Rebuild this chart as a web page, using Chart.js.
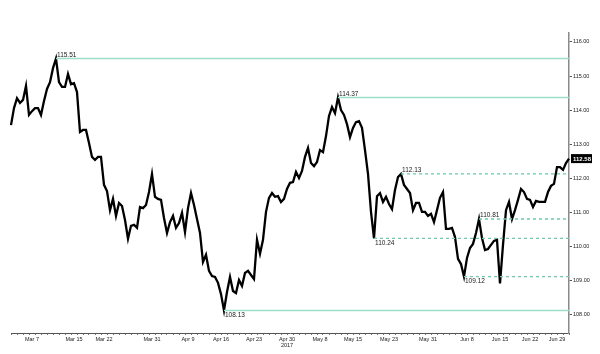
<!DOCTYPE html>
<html>
<head>
<meta charset="utf-8">
<title>USD/JPY 2017</title>
<script src="https://cdn.jsdelivr.net/npm/chart.js@4.4.1/dist/chart.umd.min.js"></script>
<style>
  html, body { margin: 0; padding: 0; background: #fff; }
  #wrap { width: 600px; height: 354px; }
</style>
</head>
<body>
<div id="wrap"><canvas id="fx" width="600" height="354"></canvas></div>
<script>
// price path, sampled evenly across the trading period (Mar 1 - Jun 30 2017)
const prices = [
  113.56, 114.06, 114.35, 114.21, 114.30, 114.71, 113.86, 113.97, 114.06, 114.06,
  113.86, 114.27, 114.62, 114.82, 115.23, 115.51, 114.82, 114.68, 114.68, 115.06,
  114.76, 114.79, 114.53, 113.36, 113.42, 113.42, 113.04, 112.63, 112.54, 112.63,
  112.63, 111.81, 111.63, 111.07, 111.40, 110.90, 111.28, 111.19, 110.78, 110.23,
  110.61, 110.64, 110.55, 111.16, 111.13, 111.22, 111.60, 112.13, 111.46, 111.40,
  111.37, 110.84, 110.40, 110.72, 110.90, 110.55, 110.69, 110.99, 110.43, 111.13,
  111.57, 111.22, 110.81, 110.40, 109.55, 109.76, 109.29, 109.14, 109.11, 108.94,
  108.61, 108.13, 108.67, 109.11, 108.70, 108.64, 109.02, 108.85, 109.23, 109.29,
  109.17, 109.05, 110.20, 109.79, 110.20, 111.02, 111.43, 111.57, 111.46, 111.48,
  111.31, 111.40, 111.69, 111.87, 111.89, 112.19, 112.01, 112.22, 112.63, 112.89,
  112.45, 112.36, 112.48, 112.83, 112.77, 113.24, 113.83, 114.09, 113.91, 114.37,
  114.00, 113.86, 113.59, 113.21, 113.48, 113.65, 113.68, 113.48, 112.83, 112.13,
  111.02, 110.24, 111.48, 111.57, 111.31, 111.46, 111.25, 111.10, 111.66, 112.04,
  112.13, 111.81, 111.69, 111.57, 111.07, 111.28, 111.28, 111.02, 111.02, 110.90,
  110.96, 110.72, 111.07, 111.43, 111.60, 110.52, 110.52, 110.55, 110.28, 109.64,
  109.49, 109.12, 109.67, 109.96, 110.08, 110.40, 110.81, 110.25, 109.90, 109.93,
  110.05, 110.17, 110.20, 108.92, 110.05, 111.07, 111.31, 110.81, 111.07, 111.37,
  111.69, 111.60, 111.40, 111.37, 111.16, 111.34, 111.31, 111.31, 111.31, 111.60,
  111.78, 111.84, 112.33, 112.33, 112.25, 112.45, 112.58
];

// date labels and the sample index where each one falls
const tickDates = ['Mar 7', 'Mar 15', 'Mar 22', 'Mar 31', 'Apr 9', 'Apr 16', 'Apr 23', 'Apr 30',
  'May 8', 'May 15', 'May 23', 'May 31', 'Jun 8', 'Jun 15', 'Jun 22', 'Jun 29'];
const tickIndex = [7, 21, 31, 47, 59, 70, 81, 92, 103, 114, 126, 139, 152, 163, 173, 182];
const yearLabel = '2017';
const yearIndex = 92;

// horizontal levels: major extremes (solid) and minor swing points (dashed)
const majorLevels = [115.51, 114.37, 108.13];
const majorStart = [15, 109, 71];
const minorLevels = [112.13, 110.81, 110.24, 109.12];
const minorStart = [130, 156, 121, 151];

const yTicks = [108, 109, 110, 111, 112, 113, 114, 115, 116];

const COLORS = {
  price: '#000000',
  major: '#9ddfca',
  minor: '#6fc9ad',
  axis: '#8a8a8a',
  text: '#1a1a1a'
};

const labels = prices.map((_, i) => {
  const k = tickIndex.indexOf(i);
  if (k < 0) return '';
  return i === yearIndex ? [tickDates[k], yearLabel] : tickDates[k];
});

// a level runs from its start sample to the end of the chart
function levelData(value, start) {
  return prices.map((_, i) => (i >= start ? value : null));
}

const levelSets = [];
majorLevels.forEach((v, k) => {
  levelSets.push({
    data: levelData(v, majorStart[k]),
    borderColor: COLORS.major,
    borderWidth: 1.5,
    pointRadius: 0,
    tension: 0,
    level: v,
    below: v < 109
  });
});
minorLevels.forEach((v, k) => {
  levelSets.push({
    data: levelData(v, minorStart[k]),
    borderColor: COLORS.minor,
    borderWidth: 1.3,
    borderDash: [3, 3],
    pointRadius: 0,
    tension: 0,
    level: v,
    below: v === 110.24 || v === 109.12
  });
});

// writes the level values next to where each line starts, and the last price box
const levelText = {
  id: 'levelText',
  afterDatasetsDraw(chart) {
    const { ctx, scales: { x, y } } = chart;
    ctx.save();
    ctx.font = '6.5px "Liberation Sans", Arial, sans-serif';
    ctx.fillStyle = COLORS.text;
    ctx.textAlign = 'left';
    chart.data.datasets.forEach(ds => {
      if (ds.level === undefined) return;
      const start = ds.data.findIndex(v => v !== null);
      const px = x.getPixelForValue(start);
      const py = y.getPixelForValue(ds.level);
      ctx.textBaseline = ds.below ? 'top' : 'bottom';
      ctx.fillText(ds.level.toFixed(2), px + 1, ds.below ? py + 1 : py - 0.5);
    });

    const last = prices[prices.length - 1];
    const ly = y.getPixelForValue(last);
    const bx = chart.chartArea.right + 2;
    ctx.fillStyle = '#000';
    ctx.fillRect(bx, ly - 4.5, 21, 9);
    ctx.fillStyle = '#fff';
    ctx.font = 'bold 6px "Liberation Sans", Arial, sans-serif';
    ctx.textBaseline = 'middle';
    ctx.fillText(last.toFixed(2), bx + 2, ly + 0.5);
    ctx.restore();
  }
};

new Chart(document.getElementById('fx'), {
  type: 'line',
  data: {
    labels,
    datasets: [
      ...levelSets,
      {
        data: prices,
        borderColor: COLORS.price,
        borderWidth: 2.3,
        pointRadius: 0,
        tension: 0
      }
    ]
  },
  options: {
    responsive: false,
    animation: false,
    devicePixelRatio: 1,
    layout: { padding: { left: 11, top: 33, right: 0, bottom: 0 } },
    plugins: {
      legend: { display: false },
      tooltip: { enabled: false }
    },
    scales: {
      x: {
        type: 'category',
        offset: false,
        afterFit: s => { s.height = 21; },
        border: { display: true, color: '#555', width: 1 },
        grid: {
          drawOnChartArea: false,
          drawTicks: true,
          tickLength: 2,
          color: c => (c.index % 2 === 0 ? '#777' : 'rgba(0,0,0,0)')
        },
        ticks: {
          autoSkip: false,
          maxRotation: 0,
          padding: 1,
          color: COLORS.text,
          font: { family: '"Liberation Sans", Arial, sans-serif', size: 5.5, lineHeight: 1.2 }
        }
      },
      y: {
        position: 'right',
        min: 107.47,
        max: 116.26,
        afterFit: s => { s.width = 31; },
        afterBuildTicks: s => { s.ticks = yTicks.map(v => ({ value: v })); },
        border: { display: true, color: COLORS.axis, width: 1.5 },
        grid: { drawOnChartArea: false, drawTicks: true, tickLength: 3, color: '#555' },
        ticks: {
          padding: 1,
          color: COLORS.text,
          font: { family: '"Liberation Sans", Arial, sans-serif', size: 5.5 },
          callback: v => Number(v).toFixed(2)
        }
      }
    }
  },
  plugins: [levelText]
});
</script>
</body>
</html>
